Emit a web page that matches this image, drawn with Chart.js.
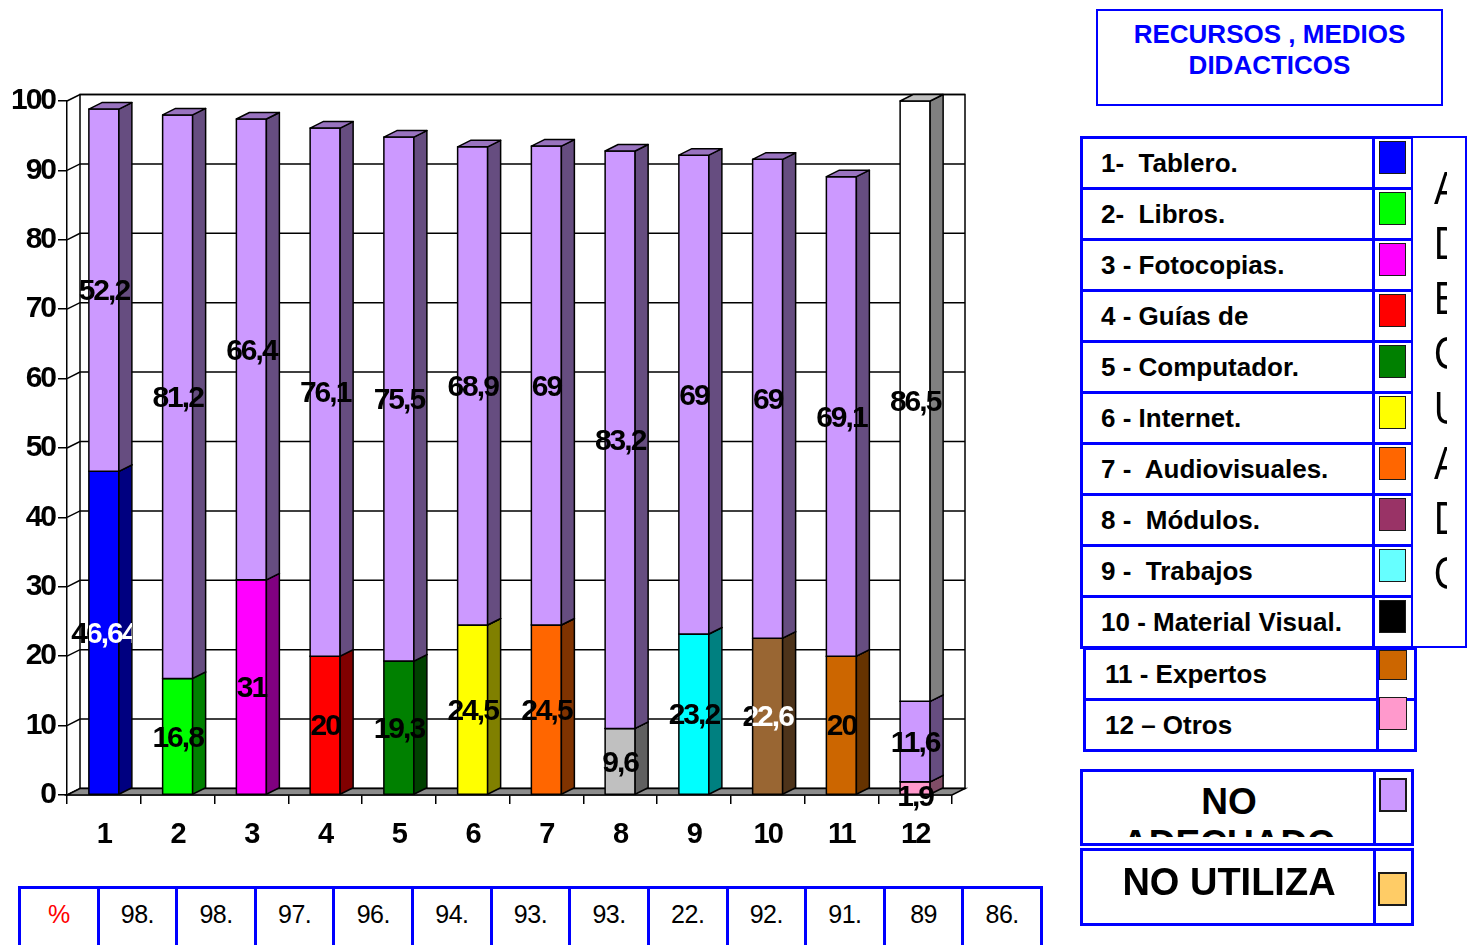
<!DOCTYPE html>
<html><head><meta charset="utf-8">
<script src="https://cdn.jsdelivr.net/npm/chart.js@4.4.1/dist/chart.umd.min.js"></script>
<style>
html,body{margin:0;padding:0;width:1475px;height:945px;overflow:hidden;background:#fff;font-family:'Liberation Sans',Arial,sans-serif;}
#c{position:absolute;left:0;top:0;}
.box{position:absolute;box-sizing:border-box;border:3px solid #0000ff;background:#fff;}
.sw{position:absolute;box-sizing:border-box;border:1.5px solid #1a1a1a;}
.clip{position:absolute;overflow:hidden;}
</style></head><body>
<canvas id="c" width="1475" height="945"></canvas>
<div id="overlay"></div>
<script>
// ---------- data ----------
const categories = ['1','2','3','4','5','6','7','8','9','10','11','12'];
const adecuado   = [46.64, 16.8, 31, 20, 19.3, 24.5, 24.5, 9.6, 23.2, 22.6, 20, 1.9];
const noAdecuado = [52.2, 81.2, 66.4, 76.1, 75.5, 68.9, 69, 83.2, 69, 69, 69.1, 11.6];
const noUtiliza  = [0, 0, 0, 0, 0, 0, 0, 0, 0, 0, 0, 86.5];
const yTickStep = 10;
const totalLabels = ['98.8','98.1','97.4','96.1','94.8','93.5','93.5','22.8','92.2','91.6','89','86.5'];
const resourceLabels = ['1-  Tablero.','2-  Libros.','3 - Fotocopias.','4 - Guías de','5 - Computador.','6 - Internet.','7 -  Audiovisuales.','8 -  Módulos.','9 -  Trabajos','10 - Material Visual.','11 - Expertos','12 – Otros'];
const legendTitle = ['RECURSOS , MEDIOS','DIDACTICOS'];
const sideWord = 'ADECUADO';

// ---------- styles ----------
const barColors = ['#0000FF','#00FF00','#FF00FF','#FF0000','#008000','#FFFF00','#FF6600','#C0C0C0','#00FFFF','#996633','#CC6600','#FF99CC'];
const swatchColors = ['#0000FF','#00FF00','#FF00FF','#FF0000','#008000','#FFFF00','#FF6600','#993366','#66FFFF','#000000','#CC6600','#FF99CC'];
const whiteLabelBars = [0, 9];
const DX = 13, DY = -6.5;
const FONT = "'Liberation Sans', Arial, sans-serif";

function shade(hex, f){
  const n = parseInt(hex.slice(1),16);
  const r = Math.round(((n>>16)&255)*f), g = Math.round(((n>>8)&255)*f), b = Math.round((n&255)*f);
  return 'rgb('+r+','+g+','+b+')';
}
function fmt(v){ return String(v).replace('.', ','); }

const spacing = {
  id:'spacing',
  beforeUpdate(chart){ chart.ctx.letterSpacing='-2px'; },
  beforeLayout(chart){ chart.ctx.letterSpacing='-2px'; },
  beforeDraw(chart){ chart.ctx.letterSpacing='-2px'; }
};

const threeD = {
  id:'threeD',
  beforeDatasetsDraw(chart){
    const {ctx, chartArea:a, scales:{y}} = chart;
    ctx.save();
    ctx.strokeStyle='#000'; ctx.lineWidth=1.5;
    ctx.fillStyle='#fff';
    ctx.beginPath(); ctx.rect(a.left+DX, a.top+DY, a.right-a.left, a.bottom-a.top); ctx.fill(); ctx.stroke();
    y.ticks.forEach(t=>{
      const py = y.getPixelForValue(t.value);
      ctx.beginPath(); ctx.moveTo(a.left,py); ctx.lineTo(a.left+DX,py+DY); ctx.lineTo(a.right+DX,py+DY); ctx.stroke();
    });
    const p0 = y.getPixelForValue(0);
    ctx.fillStyle='#8c8c8c';
    ctx.beginPath(); ctx.moveTo(a.left,p0); ctx.lineTo(a.right,p0); ctx.lineTo(a.right+DX,p0+DY); ctx.lineTo(a.left+DX,p0+DY); ctx.closePath(); ctx.fill(); ctx.stroke();
    ctx.restore();
  },
  afterDatasetsDraw(chart){
    const ctx = chart.ctx;
    ctx.save();
    ctx.strokeStyle='#000'; ctx.lineWidth=1.5; ctx.lineJoin='round';
    const poly=(pts,fill)=>{ ctx.beginPath(); ctx.moveTo(pts[0][0],pts[0][1]); for(let k=1;k<pts.length;k++) ctx.lineTo(pts[k][0],pts[k][1]); ctx.closePath(); ctx.fillStyle=fill; ctx.fill(); ctx.stroke(); };
    chart.data.datasets.forEach((ds,di)=>{
      const meta = chart.getDatasetMeta(di);
      meta.data.forEach((el,i)=>{
        const p = el.getProps(['x','y','base','width'], true);
        const top=Math.min(p.y,p.base), bot=Math.max(p.y,p.base);
        if (bot-top < 0.5) return;
        const l=p.x-p.width/2, r=p.x+p.width/2;
        const c = Array.isArray(ds.backgroundColor) ? ds.backgroundColor[i] : ds.backgroundColor;
        poly([[l,bot],[r,bot],[r,top],[l,top]], c);
        poly([[r,bot],[r+DX,bot+DY],[r+DX,top+DY],[r,top]], shade(c,0.5));
        poly([[l,top],[l+DX,top+DY],[r+DX,top+DY],[r,top]], shade(c,0.75));
      });
    });
    // labels
    ctx.font = 'bold 30px ' + FONT;
    ctx.letterSpacing = '-2px';
    ctx.textAlign='center'; ctx.textBaseline='middle';
    chart.data.datasets.forEach((ds,di)=>{
      const meta = chart.getDatasetMeta(di);
      meta.data.forEach((el,i)=>{
        const v = ds.data[i];
        if (!v) return;
        const p = el.getProps(['x','y','base','width'], true);
        const h = Math.abs(p.base - p.y);
        const cy = (h < 22 ? Math.max(p.y,p.base) + 1 : (p.y+p.base)/2) + 2;
        const l = p.x-p.width/2, r = p.x+p.width/2;
        if (di===0 && whiteLabelBars.includes(i)){
          ctx.save(); ctx.beginPath(); ctx.rect(0,0,l,2000); ctx.clip();
          ctx.fillStyle='#000'; ctx.fillText(fmt(v), p.x, cy); ctx.restore();
          ctx.save(); ctx.beginPath(); ctx.rect(l,0,r+DX-l,2000); ctx.clip();
          ctx.fillStyle='#fff'; ctx.fillText(fmt(v), p.x, cy); ctx.restore();
        } else {
          ctx.fillStyle='#000'; ctx.fillText(fmt(v), p.x, cy);
        }
      });
    });
    ctx.restore();
  }
};

new Chart(document.getElementById('c'), {
  type:'bar',
  data:{
    labels: categories,
    datasets:[
      {label:'ADECUADO', data: adecuado, backgroundColor: barColors},
      {label:'NO ADECUADO', data: noAdecuado, backgroundColor: '#CC99FF'},
      {label:'NO UTILIZA', data: noUtiliza, backgroundColor: '#FFFFFF'}
    ]
  },
  options:{
    responsive:false, animation:false, devicePixelRatio:1,
    barPercentage: 30/73.75, categoryPercentage: 1,
    borderWidth:0,
    layout:{padding:{left:0, top:101, right:523, bottom:90}},
    plugins:{legend:{display:false}, tooltip:{enabled:false}},
    scales:{
      x:{stacked:true,
         grid:{drawOnChartArea:false, drawTicks:true, tickLength:9, color:'#000', lineWidth:1.5, offset:true},
         border:{color:'#000', width:1.5},
         ticks:{color:'#000', padding:14, font:{family:FONT, size:29, weight:'bold'}},
         afterFit(s){ s.height = 60; }},
      y:{stacked:true, min:0, max:100,
         grid:{drawOnChartArea:false, drawTicks:true, tickLength:9, color:'#000', lineWidth:1.5},
         border:{color:'#000', width:1.5},
         ticks:{stepSize:yTickStep, color:'#000', padding:3, font:{family:FONT, size:30, weight:'bold'}},
         afterFit(s){ s.width = 67; }}
    }
  },
  plugins:[spacing, threeD]
});

// ---------- HTML legend / table ----------
const ov = document.getElementById('overlay');
function el(cls, l, t, w, h, css){
  const d = document.createElement('div'); d.className = cls;
  Object.assign(d.style, {left:l+'px', top:t+'px', width:w+'px', height:h+'px'}, css||{});
  ov.appendChild(d); return d;
}
// title
const tb = el('box', 1096, 9, 347, 97, {color:'#0000ff', font:'bold 26px '+FONT, textAlign:'center', lineHeight:'31px', paddingTop:'8px', borderWidth:'2.5px'});
tb.innerHTML = legendTitle.join('<br>');

// rows 1-10
for (let i=0;i<10;i++){
  const t = 136 + 51*i;
  const c = el('box', 1080, t, 296, 54, {font:'bold 26px '+FONT, lineHeight:'48px', paddingLeft:'18px', whiteSpace:'pre', color:'#000'});
  c.textContent = resourceLabels[i];
  el('box', 1372, t, 42, 54);
}
for (let i=0;i<10;i++){
  el('sw', 1379, 141 + 51*i, 27, 33, {background: swatchColors[i]});
}
// ADECUADO side box
el('box', 1411, 136, 56, 512, {borderWidth:'2px'});
const sc = el('clip', 1434, 138, 13, 508);
const sw = document.createElement('div');
Object.assign(sw.style, {font:'47px '+FONT, lineHeight:'55px', paddingTop:'22px', transform:'scaleX(0.8)', transformOrigin:'left top', color:'#000'});
sw.innerHTML = sideWord.split('').join('<br>');
sc.appendChild(sw);

// rows 11-12
for (let k=0;k<2;k++){
  const t = 647 + 51*k;
  const c = el('box', 1083, t, 296, 54, {font:'bold 26px '+FONT, lineHeight:'48px', paddingLeft:'19px', whiteSpace:'pre', color:'#000'});
  c.textContent = resourceLabels[10+k];
  el('box', 1376, t, 41, 54);
}
el('sw', 1379, 650, 28, 30, {background: swatchColors[10]});
el('sw', 1379, 697, 28, 33, {background: swatchColors[11]});

// NO ADECUADO / NO UTILIZA
el('box', 1080, 769, 297, 77);
el('box', 1373, 769, 41, 77);
const na = el('clip', 1084, 773, 290, 64, {font:'bold 37px '+FONT, lineHeight:'41.5px', textAlign:'center', color:'#000'});
na.innerHTML = '<div style="padding-top:8px">NO<br>ADECUADO</div>';
el('sw', 1379, 778, 28, 34, {background:'#CC99FF', borderWidth:'2px'});
el('box', 1080, 848, 297, 78);
el('box', 1373, 848, 41, 78);
const nu = el('clip', 1084, 852, 290, 70, {font:'bold 38px '+FONT, lineHeight:'41.5px', textAlign:'center', color:'#000'});
nu.innerHTML = '<div style="padding-top:10px">NO UTILIZA</div>';
el('sw', 1378, 872, 29, 34, {background:'#FFCC66', borderWidth:'2px'});

// bottom table
const cellW = (1041-19)/13;
const cells = ['%'].concat(totalLabels);
cells.forEach((txt,k)=>{
  const l = 18 + k*cellW;
  el('box', l, 886, cellW+3, 80);
  const c = el('clip', l+3, 889, cellW-3, 41.5, {font:'25px '+FONT, lineHeight:'26px', textAlign:'center', color: k===0 ? '#ff0000' : '#000', letterSpacing:'-0.5px'});
  const parts = txt.split('.');
  c.innerHTML = '<div style="padding-top:12px">' + (parts.length>1 ? parts[0]+'.<br><span style="color:#999">'+parts[1]+'</span>' : parts[0]) + '</div>';
});
</script>
</body></html>
